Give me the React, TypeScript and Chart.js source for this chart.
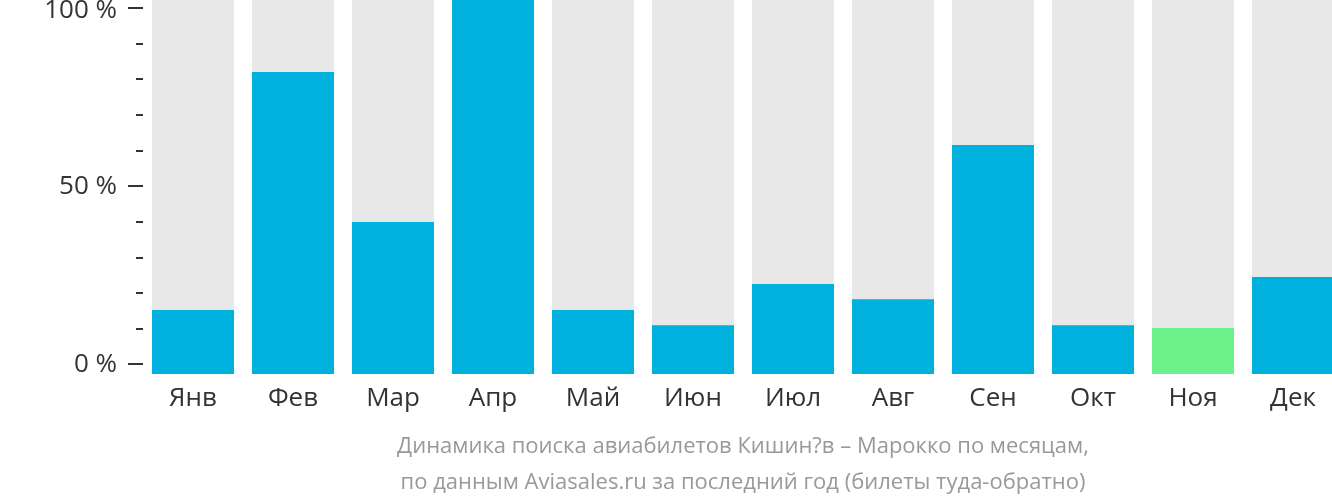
import React, { useEffect, useRef } from "react";
import { Chart, registerables } from "chart.js";

Chart.register(...registerables);

const months = ["Янв", "Фев", "Мар", "Апр", "Май", "Июн", "Июл", "Авг", "Сен", "Окт", "Ноя", "Дек"];
const values = [15.3, 82.1, 40.0, 102.3, 15.3, 11.0, 22.6, 18.3, 61.6, 11.0, 10.2, 24.5];
const highlight = [false, false, false, false, false, false, false, false, false, false, true, false];
const yTickValues = [0, 10, 20, 30, 40, 50, 60, 70, 80, 90, 100];
const yLabelValues = [0, 50, 100];
const subtitle = [
  "Динамика поиска авиабилетов Кишин?в – Марокко по месяцам,",
  "по данным Aviasales.ru за последний год (билеты туда-обратно)",
];
const Y_MIN = -2.7;
const Y_MAX = 102.3;

const tickMarks = {
  id: "tickMarks",
  afterDraw(chart: any) {
    const ctx = chart.ctx;
    const y = chart.scales.y;
    const right = chart.chartArea.left;
    ctx.save();
    ctx.fillStyle = "#333333";
    yTickValues.forEach((v) => {
      const py = Math.round(y.getPixelForValue(v));
      const major = yLabelValues.includes(v);
      const len = major ? 15 : 7;
      ctx.fillRect(right - len, py - 1, len, 2);
    });
    ctx.restore();
  },
};

export default function App() {
  const ref = useRef<HTMLCanvasElement>(null);
  useEffect(() => {
    if (!ref.current) return;
    const chart = new Chart(ref.current, {
      type: "bar",
      data: {
        labels: months,
        datasets: [
          {
            data: values,
            backgroundColor: highlight.map((h) => (h ? "#6cf08a" : "#00b1dd")),
            barPercentage: 0.82,
            categoryPercentage: 1,
            grouped: false,
            base: Y_MIN,
          } as any,
          {
            data: months.map(() => Y_MAX),
            backgroundColor: "#e8e8e8",
            barPercentage: 0.82,
            categoryPercentage: 1,
            grouped: false,
            base: Y_MIN,
          } as any,
        ],
      },
      options: {
        responsive: false,
        animation: false,
        devicePixelRatio: 1,
        layout: { padding: 0, autoPadding: false },
        plugins: { legend: { display: false }, tooltip: { enabled: false }, title: { display: false } },
        scales: {
          x: {
            grid: { display: false, drawTicks: false },
            border: { display: false },
            ticks: {
              color: "#333333",
              font: { family: "Open Sans", size: 26 },
              padding: 9,
              maxRotation: 0,
            },
            title: {
              display: true,
              text: subtitle,
              color: "#999999",
              font: { family: "Open Sans", size: 22, lineHeight: 1.6 },
              padding: { top: 0, bottom: 2 },
            },
            afterFit(scale: any) {
              scale.height = 128;
              scale.paddingLeft = 0;
              scale.paddingRight = 0;
            },
          },
          y: {
            min: Y_MIN,
            max: Y_MAX,
            grid: { display: false, drawTicks: false },
            border: { display: false },
            afterBuildTicks(scale: any) {
              scale.ticks = yTickValues.map((v) => ({ value: v }));
            },
            ticks: {
              autoSkip: false,
              color: "#333333",
              font: (c: any) =>
                c.tick && c.tick.value === 100
                  ? { family: "Open Sans", size: 26, lineHeight: 0.2 }
                  : { family: "Open Sans", size: 26 },
              padding: 26,
              callback: (v: any) => {
                const n = Number(v);
                if (!yLabelValues.includes(n)) return "";
                return n === 100 ? ["", `${n} %`] : `${n} %`;
              },
            },
            afterFit(scale: any) {
              scale.width = 143;
              scale.paddingTop = 0;
              scale.paddingBottom = 0;
            },
          },
        },
      },
      plugins: [tickMarks],
    });
    return () => chart.destroy();
  }, []);
  return (
    <div style={{ position: "fixed", left: 0, top: 0, width: 1350, height: 502, background: "#fff" }}>
      <canvas ref={ref} width={1343} height={502} style={{ display: "block" }} />
    </div>
  );
}
